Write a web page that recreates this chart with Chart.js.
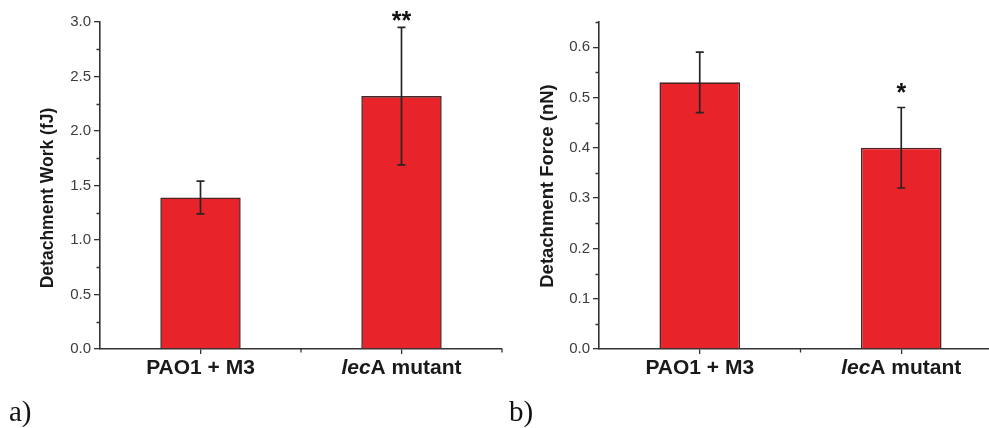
<!DOCTYPE html>
<html>
<head>
<meta charset="utf-8">
<script src="https://cdn.jsdelivr.net/npm/chart.js@4.4.0/dist/chart.umd.min.js"></script>
<style>
html,body{margin:0;padding:0;background:#fff;width:989px;height:428px;overflow:hidden;position:relative}
canvas{position:absolute;top:0}
#ca{left:0}
#cb{left:500px}
.lbl{position:absolute;font-family:"Liberation Serif","Times New Roman",serif;font-size:29px;line-height:29px;color:#111;top:397px}
</style>
</head>
<body>
<canvas id="ca" width="522" height="428"></canvas>
<canvas id="cb" width="522" height="428"></canvas>
<div class="lbl" style="left:9px">a)</div>
<div class="lbl" style="left:509px">b)</div>
<script>
const categories = ['PAO1 + M3', 'lecA mutant'];
const italicPrefix = ['', 'lec'];

const workValues = [1.39, 2.32];
const workErrors = [0.15, 0.63];
const workStars = ['', '**'];
const workTicks = [0, 0.5, 1.0, 1.5, 2.0, 2.5, 3.0];

const forceValues = [0.53, 0.40];
const forceErrors = [0.06, 0.08];
const forceStars = ['', '*'];
const forceTicks = [0, 0.1, 0.2, 0.3, 0.4, 0.5, 0.6];

const AXIS = '#333333';
const TICKTXT = '#3c3c3c';
const SANS = '"Liberation Sans", Arial, sans-serif';

const decor = {
  id: 'decor',
  afterDatasetsDraw(chart, args, o) {
    const ctx = chart.ctx, xs = chart.scales.x, ys = chart.scales.y;
    const area = chart.chartArea;
    const meta = chart.getDatasetMeta(0);
    ctx.save();
    // error bars
    ctx.strokeStyle = '#262626';
    ctx.lineWidth = 1.7;
    meta.data.forEach((bar, i) => {
      const v = o.values[i], e = o.errors[i];
      const yt = ys.getPixelForValue(v + e), yb = ys.getPixelForValue(v - e);
      ctx.beginPath();
      ctx.moveTo(bar.x, yt); ctx.lineTo(bar.x, yb);
      ctx.moveTo(bar.x - 4, yt); ctx.lineTo(bar.x + 4, yt);
      ctx.moveTo(bar.x - 4, yb); ctx.lineTo(bar.x + 4, yb);
      ctx.stroke();
      if (o.stars[i]) {
        ctx.fillStyle = '#111';
        ctx.font = 'bold 25px ' + SANS;
        ctx.textAlign = 'center';
        ctx.textBaseline = 'alphabetic';
        const m = ctx.measureText(o.stars[i]);
        const cy = yt - o.starGap;
        ctx.fillText(o.stars[i], bar.x, cy + (m.actualBoundingBoxAscent - m.actualBoundingBoxDescent) / 2);
      }
    });
    // minor y ticks
    ctx.strokeStyle = AXIS;
    ctx.lineWidth = 1.3;
    const step = o.ticks[1] - o.ticks[0];
    ctx.beginPath();
    for (let k = 0; k < o.ticks.length; k++) {
      const mv = o.ticks[k] + step / 2;
      if (mv <= ys.max + 1e-9) {
        const py = Math.round(ys.getPixelForValue(mv)) + 0.5;
        ctx.moveTo(area.left - 3.5, py); ctx.lineTo(area.left, py);
      }
    }
    // minor x ticks between categories
    for (let i = 0; i < categories.length; i++) {
      const px = (xs.getPixelForValue(i) + xs.getPixelForValue(i + 1)) / 2;
      ctx.moveTo(px, area.bottom); ctx.lineTo(px, area.bottom + 3.5);
    }
    ctx.stroke();
    // category labels
    ctx.fillStyle = '#1a1a1a';
    ctx.textBaseline = 'middle';
    ctx.textAlign = 'left';
    const fI = 'italic bold 21px ' + SANS, fB = 'bold 21px ' + SANS;
    categories.forEach((c, i) => {
      const px = xs.getPixelForValue(i);
      const pre = italicPrefix[i];
      const rest = c.slice(pre.length);
      ctx.font = fI;
      const w1 = pre ? ctx.measureText(pre).width : 0;
      ctx.font = fB;
      const w2 = ctx.measureText(rest).width;
      let sx = px - (w1 + w2) / 2;
      if (pre) {
        ctx.font = fI;
        ctx.fillText(pre, sx, area.bottom + 19);
        sx += w1;
      }
      ctx.font = fB;
      ctx.fillText(rest, sx, area.bottom + 19);
    });
    // y axis title
    ctx.save();
    ctx.translate(o.titleX, o.titleY);
    ctx.rotate(-Math.PI / 2);
    ctx.textAlign = 'center';
    ctx.textBaseline = 'middle';
    ctx.font = 'bold ' + o.titleSize + 'px ' + SANS;
    ctx.fillStyle = '#1a1a1a';
    ctx.fillText(o.title, 0, 0);
    ctx.restore();
    ctx.restore();
  }
};

function makeChart(id, values, errors, stars, ticks, yMax, title, yWidth, starGap, titleX, titleY, titleSize) {
  return new Chart(document.getElementById(id), {
    type: 'bar',
    data: {
      labels: categories,
      datasets: [{
        data: values,
        backgroundColor: '#e8232a',
        borderColor: '#4a2626',
        borderWidth: 1.6,
        borderSkipped: 'bottom',
        barPercentage: 0.4,
        categoryPercentage: 1.0
      }]
    },
    options: {
      responsive: false,
      animation: false,
      devicePixelRatio: 1,
      layout: { padding: { top: 22, right: 20, left: 0, bottom: 0 } },
      plugins: {
        legend: { display: false },
        tooltip: { enabled: false },
        decor: { values, errors, stars, ticks, title, starGap, titleX, titleY, titleSize }
      },
      scales: {
        x: {
          offset: true,
          grid: { display: true, drawOnChartArea: false, drawTicks: true, tickLength: 5, offset: false, color: AXIS, tickColor: AXIS, lineWidth: 1.3 },
          border: { display: true, color: AXIS, width: 1.6 },
          ticks: { display: false },
          afterFit: s => { s.height = 79; }
        },
        y: {
          min: 0,
          max: yMax,
          afterBuildTicks: s => { s.ticks = ticks.map(v => ({ value: v })); },
          grid: { display: true, drawOnChartArea: false, drawTicks: true, tickLength: 6, color: AXIS, tickColor: AXIS, lineWidth: 1.3 },
          border: { display: true, color: AXIS, width: 1.6 },
          ticks: {
            padding: 3,
            color: TICKTXT,
            font: { family: SANS, size: 15 },
            callback: v => Number(v).toFixed(1)
          },
          afterFit: s => { s.width = yWidth; }
        }
      }
    },
    plugins: [decor]
  });
}

makeChart('ca', workValues, workErrors, workStars, workTicks, 3.0, 'Detachment Work (fJ)', 100, 11, 48, 198, 17.5);
makeChart('cb', forceValues, forceErrors, forceStars, forceTicks, 0.65, 'Detachment Force (nN)', 99, 20, 48, 186, 18.5);
</script>
</body>
</html>
